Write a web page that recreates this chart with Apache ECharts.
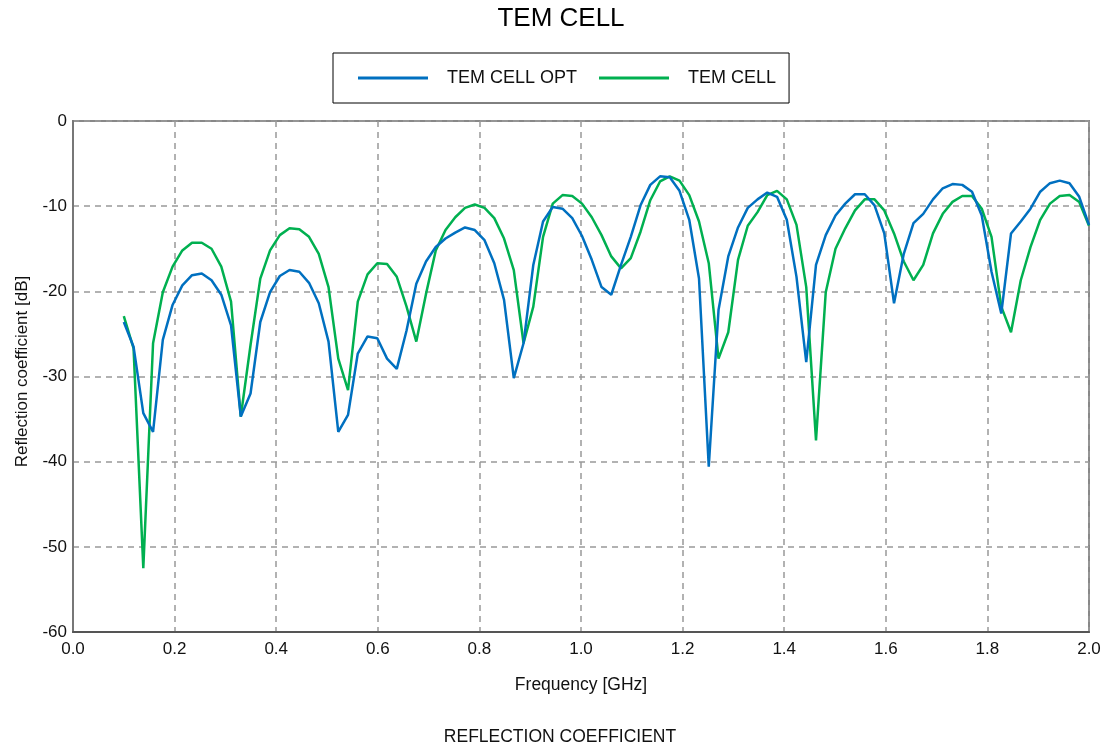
<!DOCTYPE html>
<html>
<head>
<meta charset="utf-8">
<script src="https://cdn.jsdelivr.net/npm/echarts@6/dist/echarts.min.js"></script>
<style>html,body{margin:0;padding:0;background:#fff;}#c{width:1104px;height:749px;}</style>
</head>
<body>
<div id="c"></div>
<script>
var freq = [0.1,0.1192,0.1384,0.1576,0.1768,0.1960,0.2152,0.2343,0.2535,0.2727,
0.2919,0.3111,0.3303,0.3495,0.3687,0.3879,0.4071,0.4263,0.4455,0.4646,
0.4838,0.5030,0.5222,0.5414,0.5606,0.5798,0.5990,0.6182,0.6374,0.6566,
0.6758,0.6949,0.7141,0.7333,0.7525,0.7717,0.7909,0.8101,0.8293,0.8485,
0.8677,0.8869,0.9061,0.9253,0.9444,0.9636,0.9828,1.0020,1.0212,1.0404,
1.0596,1.0788,1.0980,1.1172,1.1364,1.1556,1.1747,1.1939,1.2131,1.2323,
1.2515,1.2707,1.2899,1.3091,1.3283,1.3475,1.3667,1.3859,1.4051,1.4242,
1.4434,1.4626,1.4818,1.5010,1.5202,1.5394,1.5586,1.5778,1.5970,1.6162,
1.6354,1.6545,1.6737,1.6929,1.7121,1.7313,1.7505,1.7697,1.7889,1.8081,
1.8273,1.8465,1.8657,1.8848,1.9040,1.9232,1.9424,1.9616,1.9808,2.0];

var temCellOpt = [-23.6,-26.5,-34.3,-36.5,-25.7,-21.6,-19.3,-18.1,-17.9,-18.7,
-20.4,-24.0,-34.7,-32.0,-23.6,-20.1,-18.2,-17.5,-17.7,-19.0,
-21.4,-25.9,-36.5,-34.5,-27.3,-25.3,-25.5,-27.9,-29.1,-24.6,
-19.1,-16.5,-14.8,-13.8,-13.1,-12.5,-12.8,-14.0,-16.7,-21.0,
-30.2,-26.1,-16.9,-11.8,-10.1,-10.3,-11.4,-13.5,-16.3,-19.5,
-20.4,-16.9,-13.6,-9.9,-7.5,-6.5,-6.6,-8.2,-11.6,-18.5,
-40.6,-22.2,-15.9,-12.5,-10.2,-9.2,-8.4,-8.9,-11.6,-18.3,
-28.3,-16.9,-13.4,-11.1,-9.7,-8.6,-8.6,-9.9,-13.2,-21.4,
-15.6,-12.0,-10.9,-9.2,-7.9,-7.4,-7.5,-8.3,-11.1,-17.7,
-22.6,-13.2,-11.8,-10.3,-8.3,-7.3,-7.0,-7.3,-8.9,-12.2];

var temCell = [-22.9,-26.7,-52.5,-26.1,-20.1,-17.1,-15.2,-14.3,-14.3,-15.0,
-17.1,-21.2,-34.7,-26.3,-18.5,-15.2,-13.4,-12.6,-12.7,-13.6,
-15.6,-19.5,-27.9,-31.6,-21.2,-18.0,-16.7,-16.8,-18.3,-21.8,
-25.9,-20.3,-15.2,-12.8,-11.3,-10.2,-9.8,-10.2,-11.4,-13.8,
-17.5,-26.1,-21.8,-13.6,-9.7,-8.7,-8.8,-9.7,-11.3,-13.4,
-15.9,-17.3,-16.1,-13.0,-9.3,-7.1,-6.5,-7.0,-8.7,-11.8,
-16.7,-27.9,-24.8,-16.3,-12.3,-10.7,-8.7,-8.2,-9.2,-12.2,
-19.5,-37.5,-20.1,-15.0,-12.6,-10.5,-9.2,-9.2,-10.5,-13.2,
-16.5,-18.7,-16.9,-13.2,-10.9,-9.5,-8.8,-8.8,-10.3,-13.6,
-21.8,-24.8,-18.7,-14.8,-11.6,-9.7,-8.8,-8.7,-9.5,-12.3];

var seriesNames = ['TEM CELL OPT', 'TEM CELL'];
var chartTitle = 'TEM CELL';
var bottomTitle = 'REFLECTION COEFFICIENT';
var xName = 'Frequency [GHz]';
var yName = 'Reflection coefficient [dB]';

function pairs(xs, ys) { return xs.map(function (x, i) { return [x, ys[i]]; }); }

var FONT = '"Liberation Sans", Arial, sans-serif';
var chart = echarts.init(document.getElementById('c'), null, {renderer: 'canvas'});
chart.setOption({
  animation: false,
  backgroundColor: '#fff',
  textStyle: {fontFamily: FONT, color: '#111'},
  graphic: [
    {type: 'text', x: 561, y: 19, silent: true,
     style: {text: chartTitle, font: '26px ' + FONT, fill: '#000', textAlign: 'center', textVerticalAlign: 'middle'}},
    {type: 'text', x: 560, y: 737, silent: true,
     style: {text: bottomTitle, font: '17.5px ' + FONT, fill: '#111', textAlign: 'center', textVerticalAlign: 'middle'}}
  ],
  legend: {
    left: 333, top: 53,
    padding: [15, 13, 15, 25],
    borderColor: '#000', borderWidth: 1,
    icon: 'rect', itemWidth: 70, itemHeight: 3, itemGap: 22,
    textStyle: {fontFamily: FONT, fontSize: 18, color: '#111', padding: [0, 0, 0, 14], lineHeight: 20},
    data: seriesNames
  },
  grid: {left: 73, right: 15, top: 121, bottom: 117, show: true, borderColor: '#888', borderWidth: 2, backgroundColor: 'transparent'},
  xAxis: {
    type: 'value', min: 0, max: 2, interval: 0.2,
    name: xName, nameLocation: 'middle', nameGap: 44,
    nameTextStyle: {fontFamily: FONT, fontSize: 17.5, color: '#111'},
    axisLine: {show: true, onZero: false, lineStyle: {color: '#555', width: 2}},
    axisTick: {show: false},
    axisLabel: {fontFamily: FONT, fontSize: 17, color: '#111', margin: 9,
      formatter: function (v) { return v.toFixed(1); }},
    splitLine: {show: true, lineStyle: {color: '#999', width: 1.5, type: [6, 5]}}
  },
  yAxis: {
    type: 'value', min: -60, max: 0, interval: 10,
    name: yName, nameLocation: 'middle', nameGap: 42,
    nameTextStyle: {fontFamily: FONT, fontSize: 17, color: '#111', padding: [0, 0, 0, 10]},
    axisLine: {show: true, onZero: false, lineStyle: {color: '#777', width: 2}},
    axisTick: {show: false},
    axisLabel: {fontFamily: FONT, fontSize: 17, color: '#111', margin: 6},
    splitLine: {show: true, lineStyle: {color: '#999', width: 1.5, type: [6, 5]}}
  },
  series: [
    {name: seriesNames[0], type: 'line', data: pairs(freq, temCellOpt), showSymbol: false,
     lineStyle: {color: '#0070C0', width: 2.5}, itemStyle: {color: '#0070C0'}, z: 3},
    {name: seriesNames[1], type: 'line', data: pairs(freq, temCell), showSymbol: false,
     lineStyle: {color: '#00B050', width: 2.5}, itemStyle: {color: '#00B050'}, z: 2}
  ]
});
</script>
</body>
</html>
